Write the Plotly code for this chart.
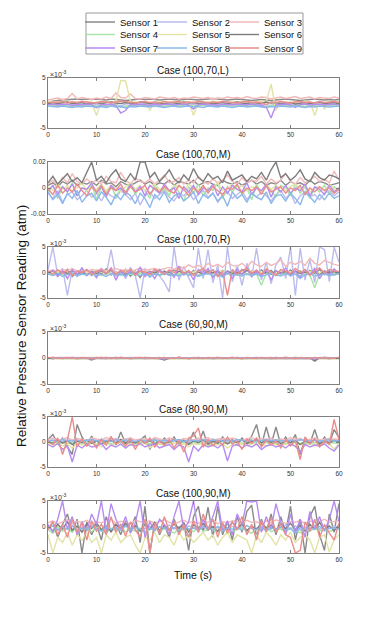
import plotly.graph_objs as go

# readings in units of 1e-4 atm, sampled once per second
time_s = list(range(0, 61))

sensor_names = ['Sensor 1', 'Sensor 2', 'Sensor 3', 'Sensor 4', 'Sensor 5', 'Sensor 6', 'Sensor 7', 'Sensor 8', 'Sensor 9']
case_names = ['Case (100,70,L)', 'Case (100,70,M)', 'Case (100,70,R)', 'Case (60,90,M)', 'Case (80,90,M)', 'Case (100,90,M)']

# Case (100,70,L)
c1_s1 = [2,4,5,6,7,7,8,7,8,7, 8,7,6,8,7,6,5,6,7,8, 7,8,7,6,7,8,7,6,7,8, 7,6,7,8,9,8,7,6,7,8, 7,6,5,6,7,6,5,6,7,8, 7,6,5,6,7,8,7,6,7,6, 7]
c1_s2 = [-2,-3,-1,-2,-4,-2,-1,-3,-2,-1, -3,-2,-4,-2,-3,-6,-2,-1,-3,-2, -2,-3,-1,-2,-3,-2,-4,-2,-1,-3, -2,-3,-2,-1,-3,-2,-4,-2,-3,-1, -2,-3,-2,-4,-2,-3,-5,-2,-1,-3, -2,-3,-1,-2,-3,-2,-1,-3,-2,-1, -2]
c1_s3 = [6,8,10,7,9,19,8,11,9,7, 10,8,12,9,20,11,10,18,9,8, 11,9,8,12,10,9,11,8,10,9, 12,10,9,11,8,10,9,12,10,11, 9,13,10,9,12,11,8,10,12,9, 11,13,9,10,12,8,11,10,9,12, 10]
c1_s4 = [-4,-5,-6,-4,-5,-7,-4,-6,-5,-4, -6,-5,-7,-5,-4,-8,-6,-5,-4,-6, -5,-4,-6,-5,-7,-4,-5,-6,-4,-5, -6,-5,-4,-6,-5,-7,-5,-4,-6,-5, -4,-6,-5,-4,-6,-7,-5,-4,-6,-5, -4,-6,-5,-7,-4,-5,-6,-4,-5,-6, -5]
c1_s5 = [2,3,1,4,2,3,1,2,3,2, -25,2,3,1,4,45,44,3,2,1, 3,-15,2,3,1,2,3,1,2,3, -25,2,3,1,4,2,3,2,1,3, 2,3,1,2,4,2,38,-15,3,2, 1,3,2,4,2,-25,3,-12,2,3, 2]
c1_s6 = [0,1,-1,0,2,-1,0,1,-2,0, 1,-1,0,2,0,-1,1,0,-1,2, 0,-1,1,0,-2,1,0,-1,2,0, 1,-1,0,1,-2,0,1,-1,0,2, 0,-1,1,0,-1,2,0,1,-1,0, 1,-2,0,1,-1,0,2,-1,0,1, 0]
c1_s7 = [-3,-2,-4,-3,-2,-5,-3,-4,-2,-3, -10,-3,-4,-2,-5,-20,-15,-3,-4,-2, -3,-5,-2,-4,-3,-2,-4,-3,-2,-4, -12,-3,-2,-4,-3,-5,-2,-3,-4,-2, -3,-4,-2,-3,-5,-8,-30,-4,-3,-2, -4,-9,-3,-2,-4,-3,-2,-4,-3,-2, -3]
c1_s8 = [-6,-7,-8,-6,-7,-9,-7,-8,-6,-7, -8,-7,-9,-6,-8,-7,-10,-7,-8,-6, -7,-8,-6,-7,-9,-7,-6,-8,-7,-6, -8,-7,-9,-6,-7,-8,-6,-7,-9,-7, -6,-8,-7,-6,-8,-9,-7,-8,-6,-7, -8,-6,-7,-9,-7,-8,-6,-7,-8,-7, -6]
c1_s9 = [0,2,1,3,0,2,1,3,2,0, 1,3,2,0,2,4,3,1,0,2, 3,1,2,0,3,1,2,3,0,2, 1,3,2,0,2,1,3,2,1,0, 2,3,1,2,0,-3,2,1,3,2, 0,2,3,1,2,0,3,1,2,3, 1]

# Case (100,70,M)
c2_s1 = [20,40,10,50,30,60,20,40,30,50, 20,60,30,40,10,50,30,20,40,60, 30,50,20,40,30,60,20,50,40,30, 60,20,40,50,30,20,60,40,30,50, 20,40,60,30,50,20,40,30,60,20, 50,30,40,20,60,30,50,40,20,30, 40]
c2_s2 = [-40,-80,-20,-110,-50,-30,-90,-60,-20,-70, -40,-100,-30,-60,-80,-20,-50,-90,-40,-130, -60,-30,-80,-50,-20,-70,-100,-40,-60,-30, -90,-50,-20,-70,-40,-110,-60,-30,-80,-50, -20,-90,-40,-70,-30,-60,-100,-50,-20,-80, -40,-120,-60,-30,-70,-50,-90,-40,-20,-60, -30]
c2_s3 = [30,60,20,80,40,110,50,30,70,40, 60,30,90,50,40,120,60,30,80,50, 40,70,30,60,100,40,50,80,30,60, 40,90,50,30,70,40,60,100,50,30, 80,40,60,50,90,30,70,40,60,110, 50,30,80,40,60,90,50,70,40,130, 60]
c2_s4 = [-40,20,-80,10,-30,40,-60,0,-20,30, -90,10,-40,20,-70,0,-30,40,-50,10, -20,-80,30,-40,0,-60,20,-30,-100,10, -40,30,-60,0,-20,40,-80,10,-30,20, -50,0,-90,30,-40,10,-20,-70,20,0, -60,30,-40,10,-80,0,-30,20,-50,10, -20]
c2_s5 = [10,-20,30,-10,20,-30,0,40,-20,10, -10,30,-20,20,0,-30,10,40,-10,20, -20,10,30,-10,0,-30,20,10,-20,30, 0,-10,20,-30,10,40,-20,0,30,-10, 20,-20,10,0,-30,30,-10,20,0,-20, 10,30,-10,20,-30,0,10,-20,30,-10, 0]
c2_s6 = [40,90,30,70,110,50,80,40,120,200, 60,90,40,100,140,70,50,110,60,200, 200,80,120,50,90,140,70,40,100,60, 150,80,50,110,70,90,40,130,60,80, 100,50,90,70,120,60,140,200,80,110, 60,90,140,70,50,120,80,60,100,90, 70]
c2_s7 = [-20,20,-50,10,-30,30,-60,0,-10,40, -40,10,-70,20,-20,0,-50,30,-30,10, -60,20,-10,-40,30,-20,0,-80,10,-30, 20,-50,0,-20,30,-60,10,-40,20,-10, -30,40,-50,0,-20,30,-70,10,-30,20, -40,0,-20,30,-60,10,-10,-50,20,-30, 0]
c2_s8 = [-30,-90,-50,-120,-40,-80,-20,-110,-60,-40, -100,-30,-70,-130,-50,-90,-30,-60,-120,-40, -80,-150,-50,-90,-30,-110,-60,-40,-100,-70, -30,-120,-50,-80,-40,-100,-60,-140,-30,-80, -50,-110,-40,-70,-90,-30,-120,-60,-50,-100, -40,-80,-130,-30,-70,-110,-50,-90,-40,-80, -60]
c2_s9 = [-10,-50,20,-40,0,-30,30,-20,-60,10, -30,20,-50,0,-20,30,-40,10,-30,-10, 20,-50,0,-30,10,-20,-40,20,-10,-60, 0,-30,20,-40,10,-20,-50,0,-10,30, -40,0,-20,10,-50,20,-30,-10,10,-40, 0,-20,20,-50,0,-30,10,-20,0,-40, -10]

# Case (100,70,R)
c3_s1 = [2,-5,4,-3,6,-8,3,-2,5,-6, 4,-3,7,-5,2,-4,6,-7,3,-10, 5,-2,4,-6,3,-4,6,-3,2,-5, 4,-7,3,-2,5,-6,4,-3,2,-5, 6,-4,3,-2,5,-3,4,-6,2,-4, 5,-3,3,-5,4,-2,6,-4,3,-5, 2]
c3_s2 = [5,50,-5,8,-45,6,-8,10,-6,4, -10,8,-5,45,-8,5,-12,10,-6,-50, 8,-10,6,-8,-20,-38,50,-15,12,-10, -30,48,-12,45,-20,15,-50,50,-18,14, -25,18,-10,48,-15,20,-22,15,30,-12, 50,-45,48,-15,25,-20,50,45,-18,50, 20]
c3_s3 = [3,5,2,6,4,8,3,5,2,6, 4,7,3,5,8,4,6,3,5,9, 4,6,8,5,7,10,6,12,8,15, 10,14,9,18,12,16,10,20,14,12, 18,10,22,15,12,20,14,18,25,12, 20,16,22,14,28,18,15,24,20,16, 14]
c3_s4 = [-2,-4,-1,-5,-3,-2,-6,-3,-1,-4, -2,-5,-3,-1,-4,-6,-2,-3,-5,-1, -3,-4,-2,-6,-3,-1,-5,-2,-4,-3, -1,-5,-3,-2,-6,-4,-8,-2,-3,-5, -2,-4,-6,-3,-25,-2,-4,-3,-5,-2, -4,-3,-6,-2,-5,-30,-3,-4,-2,-5, -3]
c3_s5 = [1,-2,3,-1,2,-3,1,2,-1,3, -2,1,2,-3,1,-1,3,-2,1,2, -1,3,-2,1,-3,2,1,-1,3,-2, 1,2,-3,1,-1,2,3,-2,1,-1, 2,-3,1,3,-1,2,-2,1,3,-1, 2,-2,1,-3,2,1,-1,3,-2,1, 2]
c3_s6 = [-1,3,-4,2,-2,4,-3,1,-5,2, -2,3,-1,4,-3,2,-4,1,-2,3, -3,2,-1,4,-2,1,-5,3,-2,2, -4,1,-3,3,-1,2,-6,3,-2,1, -3,4,-2,2,-4,1,-3,3,-1,2, -4,3,-2,1,-3,2,-5,3,-1,2, -2]
c3_s7 = [-2,4,-8,3,-12,5,-4,8,-6,2, -10,6,-3,9,-15,4,-7,3,-5,10, -8,2,-12,6,-4,3,-9,12,-5,2, -14,6,-3,8,-10,4,-6,3,-12,7, -4,10,-8,2,-6,5,-15,4,-3,9, -7,3,-10,6,-4,8,-12,2,-5,7, -3]
c3_s8 = [-3,-6,-2,-8,-4,-1,-7,-3,-5,-2, -6,-4,-8,-2,-5,-3,-7,-1,-4,-6, -2,-8,-3,-5,-1,-6,-4,-7,-2,-5, -3,-8,-4,-2,-6,-3,-9,-1,-5,-4, -7,-2,-6,-3,-8,-4,-1,-5,-7,-2, -6,-3,-12,-4,-2,-7,-5,-3,-6,-4, -2]
c3_s9 = [2,-3,5,-1,4,-6,3,0,6,-4, 2,5,-2,7,-3,4,0,6,-5,3, 1,-4,6,2,-3,5,0,8,-2,4, -6,3,7,-1,5,-8,2,-45,6,-3, 4,8,-2,5,-4,7,1,-5,6,3, -2,8,0,5,-6,4,9,-1,6,3, 2]

# Case (60,90,M)
c4_s1 = [0,1,0,-1,0,1,0,-1,-1,-4, 0,1,0,-1,0,1,0,-1,0,1, 0,-1,0,1,-3,0,-1,1,0,-1, 0,1,0,-1,0,1,0,-1,0,1, 0,-1,0,1,0,-1,0,1,0,-1, 0,1,0,-1,0,-6,1,0,-1,0, 0]
c4_s2 = [-1,0,-1,0,-1,-1,0,-1,0,-1, 0,-1,0,-1,-1,0,-1,0,-1,0, -1,0,-1,0,-1,-1,0,-1,0,-1, 0,-1,-1,0,-1,0,-1,0,-1,0, -1,0,-1,-1,0,-1,0,-1,0,-1, 0,-1,0,-1,-1,0,-1,0,-1,0, -1]
c4_s3 = [1,0,1,1,0,1,1,0,1,0, 1,1,0,1,0,1,1,0,1,1, 0,1,0,1,1,0,1,1,0,1, 1,0,1,1,0,1,0,1,1,0, 1,1,0,1,0,1,1,0,1,1, 0,1,0,1,1,0,1,0,1,1, 0]
c4_s4 = [-1,0,-1,-1,0,-1,-1,0,-1,-2, -1,0,-1,0,-1,-1,0,-1,-1,0, -1,-1,0,-1,-2,-1,0,-1,-1,0, -1,0,-1,-1,0,-1,-1,0,-1,0, -1,-1,0,-1,-1,0,-1,0,-1,-1, 0,-1,-1,0,-1,-3,0,-1,-1,0, -1]
c4_s5 = [-1,-2,-1,-2,-1,-1,-2,-1,-2,-3, -1,-2,-1,-2,-1,-2,-1,-1,-2,-1, -2,-1,-2,-1,-3,-1,-2,-1,-2,-1, -1,-2,-1,-2,-1,-2,-1,-1,-2,-1, -2,-1,-2,-1,-1,-2,-1,-2,-1,-2, -1,-2,-1,-1,-2,-4,-1,-2,-1,-2, -1]
c4_s6 = [0,-1,0,0,1,0,-1,0,0,-3, 0,0,-1,0,1,0,0,-1,0,0, 1,0,0,-1,-4,0,0,1,0,-1, 0,0,1,0,-1,0,0,0,1,0, -1,0,0,1,0,0,-1,0,0,1, 0,0,-1,0,0,-5,0,1,0,0, 0]
c4_s7 = [0,-1,0,0,-1,0,0,-1,0,-2, 0,-1,0,0,-1,0,0,-1,0,0, -1,0,0,-1,-2,0,0,-1,0,0, -1,0,0,-1,0,0,-1,0,0,-1, 0,0,-1,0,0,-1,0,0,-1,0, 0,-1,0,0,-1,-2,0,0,-1,0, 0]
c4_s8 = [0,0,-1,0,0,0,-1,0,0,-1, 0,0,0,-1,0,0,0,-1,0,0, 0,-1,0,0,-1,0,0,0,-1,0, 0,0,-1,0,0,0,-1,0,0,0, -1,0,0,0,-1,0,0,0,-1,0, 0,0,-1,0,0,-1,0,0,0,-1, 0]
c4_s9 = [0,1,0,-1,1,0,-1,1,0,-1, 1,0,1,-1,0,1,0,-1,1,0, 0,1,-1,0,1,-1,0,1,0,-1, 1,0,-1,1,0,1,-1,0,1,0, -1,1,0,-1,1,0,1,-1,0,1, 0,-1,1,0,-1,1,0,1,-1,0, 1]

# Case (80,90,M)
c5_s1 = [5,15,-3,8,-10,-25,35,10,-5,12, -8,6,-4,10,-6,20,-3,8,-5,4, 12,-15,6,-4,8,-2,10,-6,4,-3, 20,-5,22,-8,6,-4,10,-3,5,-6, 8,-4,12,35,-8,30,-5,30,-6,10, -4,15,-25,8,-3,25,-6,10,-4,25, 8]
c5_s2 = [3,2,4,1,3,5,2,4,3,2, 4,1,3,5,2,3,4,2,1,3, 4,2,3,5,1,3,2,4,3,1, 3,4,2,3,5,2,4,1,3,2, 4,3,1,5,2,3,4,2,3,1, 4,2,3,5,2,4,1,3,2,4, 3]
c5_s3 = [5,8,3,6,9,4,7,5,3,8, 6,4,9,5,7,3,6,8,4,5, 7,3,9,6,4,8,5,3,7,6, 4,8,5,9,3,6,7,4,8,5, 3,6,9,4,7,5,8,3,6,4, 9,5,7,3,6,8,4,5,7,6, 5]
c5_s4 = [-2,-1,-3,-2,-4,-1,-2,-3,-1,-2, -4,-2,-1,-3,-2,-1,-4,-2,-3,-1, -2,-3,-1,-4,-2,-1,-3,-2,-1,-4, -2,-3,-1,-2,-4,-1,-3,-2,-1,-3, -2,-4,-1,-2,-3,-1,-2,-4,-1,-3, -2,-1,-3,-2,-4,-1,-2,-3,-1,-2, -3]
c5_s5 = [-3,-6,-2,-8,-4,-12,-3,-5,-7,-2, -4,-10,-3,-6,-2,-5,-8,-3,-4,-6, -2,-12,-4,-3,-7,-5,-2,-6,-4,-10, -3,-5,-2,-8,-4,-6,-3,-12,-5,-2, -4,-7,-3,-5,-2,-8,-4,-6,-3,-5, -2,-10,-4,-6,-3,-5,-8,-2,-4,-14, -3]
c5_s6 = [1,-3,4,-2,3,-5,2,-1,4,-3, 2,-4,1,3,-2,5,-3,1,-2,4, -1,3,-4,2,-3,1,4,-2,3,-5, 2,-1,4,-3,1,-2,3,-4,2,-1, 4,-3,1,5,-2,3,-1,4,-3,2, -1,3,-5,2,-2,4,-3,1,-2,3, 1]
c5_s7 = [-5,-10,-3,-15,-8,-40,-6,-12,-4,-10, -8,-3,-15,-6,-10,-4,-12,-5,-8,-3, -10,-6,-4,-12,-8,-5,-15,-6,-10,-40, -8,-18,-5,-10,-6,-12,-4,-38,-8,-5, -12,-6,-10,-4,-15,-8,-5,-10,-6,-12, -4,-8,-20,-5,-10,-6,-8,-4,-12,-18, -6]
c5_s8 = [2,4,1,5,3,2,4,1,3,5, 2,4,3,1,5,2,4,3,1,4, 2,5,3,1,4,2,3,5,1,4, 3,2,5,1,4,3,2,4,1,5, 3,2,4,1,3,5,2,4,3,1, 4,2,5,3,1,4,2,3,5,2, 3]
c5_s9 = [2,-5,8,-25,4,50,-10,6,-8,3, -12,5,-6,10,-4,2,-8,6,-15,4, -3,8,-10,2,-6,5,-12,3,-20,8, 12,28,-10,5,-8,3,-6,10,-4,2, -15,6,-3,8,-10,4,-6,2,-12,5, -8,3,-35,10,-4,6,-10,2,-5,45, 5]

# Case (100,90,M)
c6_s1 = [-5,10,-20,5,25,-10,15,-50,10,-15, 5,-25,20,-10,8,-15,12,-5,20,-30, 40,-50,10,-15,5,-20,15,-10,8,-45, 20,40,-10,38,-20,40,-15,10,-25,20, -10,30,42,-20,15,-10,25,-15,20,-10, 40,-25,15,-50,20,40,-15,-45,25,-10, 45]
c6_s2 = [-2,3,-5,1,-4,2,-6,0,-3,4, -1,-5,2,-3,0,-6,3,-2,1,-4, -3,2,-5,0,-2,4,-4,1,-6,2, -1,-3,3,-5,0,-2,4,-4,1,-3, 2,-6,0,-2,3,-5,1,-3,-1,4, -4,2,-6,0,-2,3,-4,1,-3,2, -1]
c6_s3 = [8,12,6,10,14,7,11,9,13,6, 10,8,12,15,7,11,9,6,13,10, 8,12,7,11,14,9,6,10,13,8, 11,7,12,9,14,6,10,8,12,11, 7,13,9,10,6,12,8,14,11,7, 10,9,13,6,12,8,11,15,9,10, 12]
c6_s4 = [-5,-12,0,-8,-3,-10,2,-6,-4,-9, -1,-7,-12,-3,-6,0,-10,-4,-8,-2, -11,-5,-1,-9,-3,-7,-12,-2,-6,-4, -9,0,-8,-5,-3,-11,-1,-6,-10,-4, -2,-8,-12,-3,-7,0,-9,-5,-4,-10, -1,-6,-11,-3,-8,-2,-7,-4,-9,-5, -3]
c6_s5 = [-15,-50,-20,-30,-10,-35,-15,-25,-10,-30, -20,-50,-15,-25,-10,-30,-20,-15,-35,-50, -20,-25,-10,-30,-15,-20,-35,-10,-25,-15, -30,-20,-10,-25,-15,-35,-20,-10,-30,-15, -20,-25,-50,-15,-30,-10,-20,-35,-15,-25, -10,-30,-20,-15,-25,-50,-20,-15,-48,-25, -15]
c6_s6 = [3,-8,5,-4,10,-6,2,-10,6,-3, 8,-5,1,-9,4,-2,7,-6,3,-8, 5,-4,9,-7,2,-5,6,-3,8,-10, 4,-2,7,-6,1,-8,5,-4,9,-3, 6,-7,2,-5,8,-2,4,-9,6,-3, 7,-5,3,-8,5,-4,9,-6,2,-7, 4]
c6_s7 = [5,-10,15,50,-5,20,-15,10,-8,25, 5,50,-10,45,15,-5,20,-12,8,50, -20,10,-8,15,5,-15,20,50,-5,10, 50,-10,15,-5,20,50,-8,12,-15,25, 5,50,48,50,-10,20,-5,45,10,-15, 25,-10,15,-20,30,-5,20,-8,15,50, 10]
c6_s8 = [-3,2,-6,-1,-4,3,-7,-2,-5,1, -3,-8,0,-4,-2,-6,2,-5,-1,-4, -10,-2,-6,1,-3,-5,-1,-7,2,-4, -2,-6,0,-3,-5,1,-8,-2,-4,-1, -6,3,-3,-5,-1,-7,-2,-4,0,-6, -3,-12,-1,-5,-2,-4,1,-6,-3,-2, -4]
c6_s9 = [-5,10,-15,5,-20,15,-10,8,-25,12, -8,5,-15,20,-10,6,-18,10,-5,-20, 15,-50,8,-12,20,-8,10,-15,5,-20, 12,-10,25,-5,15,-20,8,-12,10,-6, 20,-15,5,-25,12,-8,18,-10,6,-15, -20,-50,-45,10,-8,15,-20,5,-12,-25, 8]

cases = [
	[c1_s1, c1_s2, c1_s3, c1_s4, c1_s5, c1_s6, c1_s7, c1_s8, c1_s9],
	[c2_s1, c2_s2, c2_s3, c2_s4, c2_s5, c2_s6, c2_s7, c2_s8, c2_s9],
	[c3_s1, c3_s2, c3_s3, c3_s4, c3_s5, c3_s6, c3_s7, c3_s8, c3_s9],
	[c4_s1, c4_s2, c4_s3, c4_s4, c4_s5, c4_s6, c4_s7, c4_s8, c4_s9],
	[c5_s1, c5_s2, c5_s3, c5_s4, c5_s5, c5_s6, c5_s7, c5_s8, c5_s9],
	[c6_s1, c6_s2, c6_s3, c6_s4, c6_s5, c6_s6, c6_s7, c6_s8, c6_s9],
]

colors = ['#8a8a8a', '#bcbcef', '#f2b9b9', '#a6e3a6', '#e3e3a8', '#7d7d7d', '#b68cf0', '#8ab8ea', '#e98d8d']

# the page body adds an 8px margin, so the figure is laid out in page pixels minus 8
OFF = 8
W, H = 374 - 2 * OFF, 621 - 2 * OFF

def px(x):
	return (x - OFF) / W

def py(y):
	return 1 - (y - OFF) / H

# panel tops/bottoms in page pixels
panel_px = [(78, 128), (162, 214), (247, 298), (332, 384), (417, 467), (501, 553)]
x_dom = [px(48), px(339)]
axis_col = '#7f7f7f'

fig = go.Figure()
layout = dict(
	width=W, height=H, margin=dict(l=0, r=0, t=0, b=0, autoexpand=False),
	paper_bgcolor='white', plot_bgcolor='white',
	font=dict(family='Liberation Sans, Arial, sans-serif', color='#222222'),
	annotations=[], shapes=[],
)

# one single-entry legend per sensor, laid out as a 3x3 grid
legend_ids = ['legend'] + ['legend%d' % k for k in range(2, 10)]
for i in range(6):
	n = '' if i == 0 else str(i + 1)
	for j in range(9):
		fig.add_trace(go.Scatter(
			x=time_s, y=[v * 1e-4 for v in cases[i][j]], mode='lines',
			line=dict(color=colors[j], width=1.4), name=sensor_names[j],
			showlegend=(i == 0), legend=legend_ids[j],
			xaxis='x' + n, yaxis='y' + n, hoverinfo='skip'))

	top, bot = panel_px[i]
	y_dom = [py(bot), py(top)]
	layout['xaxis' + n] = dict(
		domain=x_dom, anchor='y' + n, range=[0, 60], tickvals=[0, 10, 20, 30, 40, 50, 60],
		ticks='inside', ticklen=3, tickcolor=axis_col, showline=True, linecolor=axis_col, linewidth=1,
		mirror='ticks', showgrid=False, zeroline=False, tickfont=dict(size=6.5, color='#333333'))
	if i == 1:
		yvals, ytext = [-0.02, 0, 0.02], ['-0.02', '0', '0.02']
		yrange = [-0.02, 0.02]
	else:
		yvals, ytext = [-0.005, 0, 0.005], ['-5', '0', '5']
		yrange = [-0.005, 0.005]
	layout['yaxis' + n] = dict(
		domain=y_dom, anchor='x' + n, range=yrange, tickvals=yvals, ticktext=ytext,
		ticks='inside', ticklen=3, tickcolor=axis_col, showline=True, linecolor=axis_col, linewidth=1,
		mirror='ticks', showgrid=False, zeroline=False, tickfont=dict(size=6.5, color='#333333'))

	layout['annotations'].append(dict(
		text=case_names[i], xref='paper', yref='paper', x=sum(x_dom) / 2, y=y_dom[1],
		xanchor='center', yanchor='bottom', yshift=0, showarrow=False, font=dict(size=10, color='#111111')))
	if i != 1:
		layout['annotations'].append(dict(
			text='×10<sup>-3</sup>', xref='paper', yref='paper', x=x_dom[0], y=y_dom[1],
			xanchor='left', yanchor='bottom', yshift=-2, showarrow=False, font=dict(size=7, color='#333333')))

layout['annotations'].append(dict(
	text='Relative Pressure Sensor Reading (atm)', xref='paper', yref='paper', x=px(21), y=py(326),
	textangle=-90, showarrow=False, xanchor='center', yanchor='middle', font=dict(size=13.5, color='#111111')))
layout['annotations'].append(dict(
	text='Time (s)', xref='paper', yref='paper', x=sum(x_dom) / 2, y=py(575),
	showarrow=False, xanchor='center', yanchor='middle', font=dict(size=10.5, color='#111111')))

col_x = [80, 152, 224]
row_y = [22, 34.5, 48]
for j, lid in enumerate(legend_ids):
	layout[lid] = dict(
		x=px(col_x[j % 3]), xanchor='left', y=py(row_y[j // 3]), yanchor='middle',
		font=dict(size=9.5, color='#111111'), itemwidth=30,
		bgcolor='rgba(0,0,0,0)', borderwidth=0)
layout['shapes'].append(dict(
	type='rect', xref='paper', yref='paper', x0=px(86), x1=px(303), y0=py(54), y1=py(13),
	line=dict(color='#999999', width=1), fillcolor='rgba(0,0,0,0)'))

fig.update_layout(layout)
fig.write_html("out.html")
